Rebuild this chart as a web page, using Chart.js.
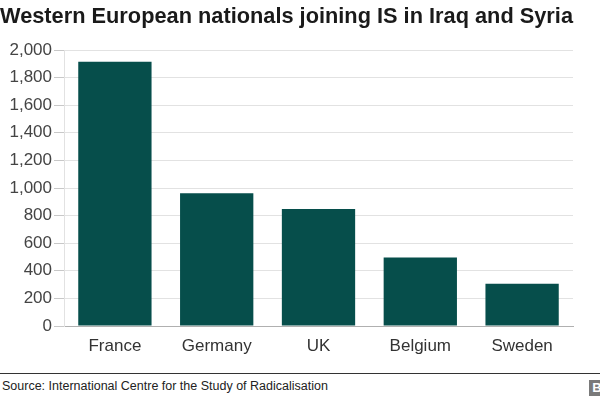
<!DOCTYPE html>
<html>
<head>
<meta charset="utf-8">
<script src="https://cdn.jsdelivr.net/npm/chart.js@4/dist/chart.umd.min.js"></script>
<style>
  html, body { margin: 0; padding: 0; background: #fff; }
  #wrap { position: relative; width: 600px; height: 400px; overflow: hidden; font-family: "Liberation Sans", Arial, sans-serif; }
  #chartBox { position: absolute; left: 0; top: 0; width: 600px; height: 372px; }
  #footer { position: absolute; left: 0; top: 373px; width: 600px; border-top: 1px solid #333; }
  #source { position: absolute; left: 2px; top: 5px; font-size: 12.5px; color: #222; white-space: nowrap; }
  #logo { position: absolute; left: 589px; top: 6px; display: flex; gap: 2px; }
  #logo span { display: block; width: 16px; height: 16px; background: #7a7a7a; color: #fff; font: bold 13px "Liberation Sans", Arial, sans-serif; text-align: center; line-height: 16px; }
</style>
</head>
<body>
<div id="wrap">
  <div id="chartBox"><canvas id="isChart"></canvas></div>
  <div id="footer">
    <div id="source">Source: International Centre for the Study of Radicalisation</div>
    <div id="logo"><span>B</span><span>B</span><span>C</span></div>
  </div>
</div>
<script>
// data
const countries = ["France", "Germany", "UK", "Belgium", "Sweden"];
const fighters = [1915, 962, 848, 497, 307];
const yTicks = [0, 200, 400, 600, 800, 1000, 1200, 1400, 1600, 1800, 2000];

const barColour = "#064e4b";
const fontName = "'Liberation Sans', Arial, sans-serif";

let ctx = document.getElementById("isChart").getContext("2d");

new Chart(ctx, {
    type: 'bar',
    data: {
        labels: countries,
        datasets: [{
            data: fighters,
            backgroundColor: barColour,
            borderWidth: 0,
            categoryPercentage: 1,
            barPercentage: 0.72
        }]
    },
    options: {
        responsive: true,
        maintainAspectRatio: false,
        animation: false,
        layout: { padding: { left: 0, right: 27, top: 0, bottom: 0 } },
        plugins: {
            legend: { display: false },
            tooltip: { enabled: false },
            title: {
                display: true,
                text: 'Western European nationals joining IS in Iraq and Syria',
                align: 'start',
                color: '#1a1a1a',
                font: { family: fontName, size: 22, weight: 'bold' },
                padding: { top: 4, bottom: 19.6 }
            }
        },
        scales: {
            x: {
                grid: { display: false, drawTicks: false },
                border: { display: true, color: '#b0b0b0', width: 1 },
                ticks: {
                    color: '#333',
                    font: { family: fontName, size: 17 },
                    padding: 10
                },
                afterFit: function (scale) { scale.height = 46; }
            },
            y: {
                min: 0,
                max: 2000,
                afterBuildTicks: function (scale) {
                    scale.ticks = yTicks.map(v => ({ value: v }));
                },
                grid: { color: '#e2e2e2', tickLength: 10, tickColor: '#c8c8c8' },
                border: { display: true, color: '#e2e2e2' },
                ticks: {
                    color: '#444',
                    font: { family: fontName, size: 17 },
                    padding: 2,
                    callback: v => v.toLocaleString('en-US')
                },
                afterFit: function (scale) { scale.width = 64; }
            }
        }
    }
});
</script>
</body>
</html>
